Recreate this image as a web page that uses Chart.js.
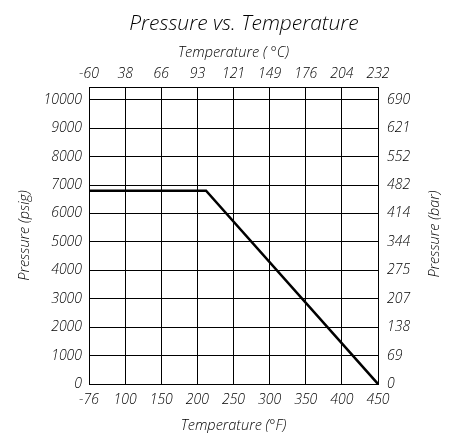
<!DOCTYPE html>
<html>
<head>
<meta charset="utf-8">
<script src="https://cdn.jsdelivr.net/npm/chart.js@4.4.1/dist/chart.umd.min.js"></script>
<style>
  html, body { margin: 0; padding: 0; background: #fff; }
  #wrap { width: 450px; height: 445px; }
</style>
</head>
<body>
<div id="wrap"><canvas id="chart" width="450" height="445"></canvas></div>
<script>
// chart data
const tempF = [-76, 212, 450];
const pressurePsig = [6800, 6800, 0];

// tick labels
const tickF = ['-76', '100', '150', '200', '250', '300', '350', '400', '450'];
const tickC = ['-60', '38', '66', '93', '121', '149', '176', '204', '232'];
const tickPsig = [0, 1000, 2000, 3000, 4000, 5000, 6000, 7000, 8000, 9000, 10000];
const tickBar = ['0', '69', '138', '207', '275', '344', '414', '482', '552', '621', '690'];

const FONT = "'Open Sans', 'DejaVu Sans', sans-serif";

// the first interval (-76..100) is squeezed into one grid cell
const axisPos = t => (t < 100 ? 50 + (t + 76) * 50 / 176 : t);
const psigTicks = s => { s.ticks = tickPsig.map(v => ({ value: v })); };

Chart.defaults.font.family = FONT;
Chart.defaults.font.style = 'italic';
Chart.defaults.font.weight = 350;
Chart.defaults.color = '#000';

// main title + right axis title (reads bottom-to-top like the left one)
const extraText = {
    id: 'extraText',
    afterDraw(chart) {
        const ctx = chart.ctx;
        ctx.save();
        ctx.fillStyle = '#000';
        ctx.textAlign = 'center';
        ctx.textBaseline = 'middle';
        ctx.font = 'italic 350 21px ' + FONT;
        ctx.fillText('Pressure vs. Temperature', 244, 24);
        ctx.translate(435, 234);
        ctx.rotate(-Math.PI / 2);
        ctx.font = 'italic 350 14.5px ' + FONT;
        ctx.fillText('Pressure (bar)', 0, 0);
        ctx.restore();
    }
};

const ctx = document.getElementById('chart').getContext('2d');

new Chart(ctx, {
    type: 'line',
    data: {
        datasets: [{
            label: 'Pressure',
            data: tempF.map((t, i) => ({ x: axisPos(t), y: pressurePsig[i] })),
            borderColor: '#000',
            borderWidth: 2.5,
            pointRadius: 0,
            tension: 0,
            fill: false
        }]
    },
    options: {
        responsive: false,
        animation: false,
        plugins: {
            legend: { display: false },
            tooltip: { enabled: false }
        },
        scales: {
            x: {
                type: 'linear',
                position: 'bottom',
                min: 50,
                max: 450,
                afterFit: s => { s.height = 61; },
                ticks: {
                    stepSize: 50,
                    padding: 8,
                    maxRotation: 0,
                    autoSkip: false,
                    font: { size: 14 },
                    callback: (v, i) => tickF[i]
                },
                grid: { color: '#000', lineWidth: 1, drawTicks: false },
                border: { color: '#000', width: 1 },
                title: {
                    display: true,
                    text: 'Temperature (°F)',
                    font: { size: 14.5 },
                    padding: { top: 0, bottom: 10 }
                }
            },
            x2: {
                type: 'linear',
                position: 'top',
                min: 50,
                max: 450,
                afterFit: s => { s.height = 87; },
                ticks: {
                    stepSize: 50,
                    padding: 5,
                    maxRotation: 0,
                    autoSkip: false,
                    font: { size: 14 },
                    callback: (v, i) => tickC[i]
                },
                grid: { display: false, drawTicks: false },
                border: { color: '#000', width: 1 },
                title: {
                    display: true,
                    text: 'Temperature ( °C)',
                    font: { size: 14.5 },
                    padding: { top: 44, bottom: 0 }
                }
            },
            y: {
                type: 'linear',
                position: 'left',
                min: 0,
                max: 10450,
                afterFit: s => { s.width = 89; },
                afterBuildTicks: psigTicks,
                ticks: {
                    padding: 7,
                    font: { size: 14 },
                    callback: v => String(v)
                },
                grid: { color: '#000', lineWidth: 1, drawTicks: false },
                border: { color: '#000', width: 1 },
                title: {
                    display: true,
                    text: 'Pressure (psig)',
                    font: { size: 14.5 },
                    padding: { top: 16, bottom: 0 }
                }
            },
            y2: {
                type: 'linear',
                position: 'right',
                min: 0,
                max: 10450,
                afterFit: s => { s.width = 72; },
                afterBuildTicks: psigTicks,
                ticks: {
                    padding: 9,
                    font: { size: 14 },
                    callback: (v, i) => tickBar[i]
                },
                grid: { display: false, drawTicks: false },
                border: { color: '#000', width: 1 }
            }
        }
    },
    plugins: [extraText]
});
</script>
</body>
</html>
